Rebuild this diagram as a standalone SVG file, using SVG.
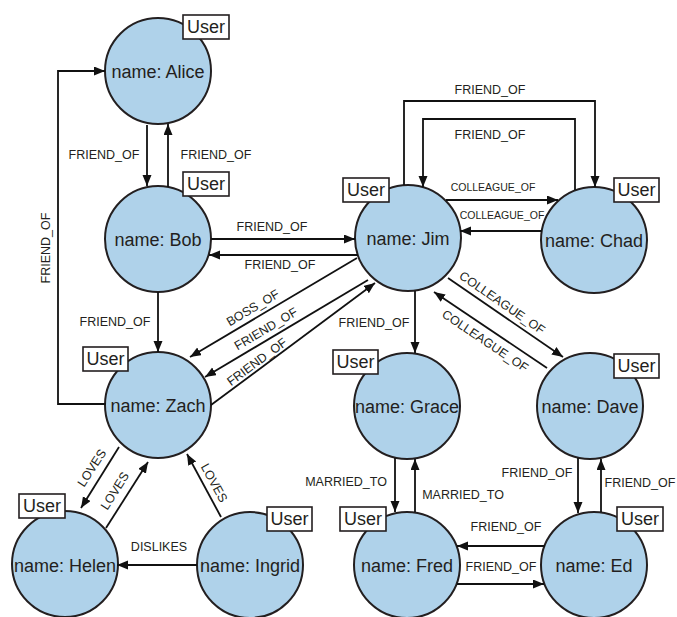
<svg xmlns="http://www.w3.org/2000/svg" width="677" height="617" viewBox="0 0 677 617">
  <style>
    .node circle { fill: #afd2ea; stroke: #231f20; stroke-width: 2; }
    .node rect { fill: #ffffff; stroke: #231f20; stroke-width: 1.6; }
    text { font-family: "Liberation Sans", Arial, sans-serif; fill: #231f20; text-anchor: middle; dominant-baseline: central; }
    .name { font-size: 18px; }
    .tag { font-size: 18px; }
    .edge { fill: none; stroke: #111111; stroke-width: 1.8; marker-end: url(#arrow); }
    .lbl { font-size: 12.5px; }
    .sm { font-size: 10.5px; }
  </style>
  <defs>
    <marker id="arrow" markerUnits="userSpaceOnUse" markerWidth="12" markerHeight="10" refX="11" refY="4.5" orient="auto">
      <path d="M0,0 L11,4.5 L0,9 z" fill="#111111"/>
    </marker>
  </defs>
  <rect width="677" height="617" fill="#ffffff"/>

  <!-- nodes -->
  <g id="alice" class="node"><circle cx="158" cy="71" r="53"/><text class="name" x="158" y="72">name: Alice</text><rect x="183" y="15" width="46" height="24"/><text class="tag" x="206" y="27">User</text></g>
  <g id="bob" class="node"><circle cx="158" cy="239" r="53"/><text class="name" x="158" y="240">name: Bob</text><rect x="183" y="172" width="46" height="24"/><text class="tag" x="206" y="184">User</text></g>
  <g id="jim" class="node"><circle cx="408" cy="238" r="53"/><text class="name" x="408" y="239">name: Jim</text><rect x="343" y="178" width="46" height="24"/><text class="tag" x="366" y="190">User</text></g>
  <g id="chad" class="node"><circle cx="594" cy="240" r="53"/><text class="name" x="594" y="241">name: Chad</text><rect x="614" y="178" width="45" height="24"/><text class="tag" x="636.5" y="190">User</text></g>
  <g id="zach" class="node"><circle cx="158" cy="405" r="53"/><text class="name" x="158" y="406">name: Zach</text><rect x="83" y="347" width="45" height="24"/><text class="tag" x="105.5" y="359">User</text></g>
  <g id="helen" class="node"><circle cx="65" cy="564" r="53"/><text class="name" x="65" y="566">name: Helen</text><rect x="19" y="494" width="46" height="24"/><text class="tag" x="42" y="506">User</text></g>
  <g id="ingrid" class="node"><circle cx="250" cy="565" r="53"/><text class="name" x="250" y="566">name: Ingrid</text><rect x="267" y="507" width="45" height="24"/><text class="tag" x="289.5" y="519">User</text></g>
  <g id="grace" class="node"><circle cx="407" cy="406" r="53"/><text class="name" x="407" y="407">name: Grace</text><rect x="333" y="350" width="45" height="24"/><text class="tag" x="355.5" y="362">User</text></g>
  <g id="dave" class="node"><circle cx="590" cy="406" r="53"/><text class="name" x="590" y="407">name: Dave</text><rect x="614" y="354" width="45" height="24"/><text class="tag" x="636.5" y="366">User</text></g>
  <g id="fred" class="node"><circle cx="407" cy="565" r="53"/><text class="name" x="407" y="566">name: Fred</text><rect x="340" y="507" width="46" height="24"/><text class="tag" x="363" y="519">User</text></g>
  <g id="ed" class="node"><circle cx="594" cy="565" r="53"/><text class="name" x="594" y="566">name: Ed</text><rect x="617" y="507" width="46" height="24"/><text class="tag" x="640" y="519">User</text></g>

  <!-- connectors -->
  <g id="connectors">
    <path class="edge" d="M147,125 V186"/>
    <text class="lbl" x="104" y="155">FRIEND_OF</text>
    <path class="edge" d="M168,187 V124"/>
    <text class="lbl" x="216" y="155">FRIEND_OF</text>

    <path class="edge" d="M211,239 H355"/>
    <text class="lbl" x="272" y="227">FRIEND_OF</text>
    <path class="edge" d="M358,255 H209"/>
    <text class="lbl" x="280" y="265">FRIEND_OF</text>

    <path class="edge" d="M404,185 V101 H595 V187"/>
    <text class="lbl" x="490" y="90">FRIEND_OF</text>
    <path class="edge" d="M575,190 V119 H423 V187"/>
    <text class="lbl" x="490" y="135">FRIEND_OF</text>

    <path class="edge" d="M446,200 H558"/>
    <text class="sm" x="493" y="187">COLLEAGUE_OF</text>
    <path class="edge" d="M542,231 H460"/>
    <text class="sm" x="502" y="215">COLLEAGUE_OF</text>

    <path class="edge" d="M158,292 V352"/>
    <text class="lbl" x="115" y="322">FRIEND_OF</text>

    <path class="edge" d="M106,404 H58 V71 H105"/>
    <text class="lbl" transform="translate(46,248) rotate(-90)">FRIEND_OF</text>

    <path class="edge" d="M357,258 L190,357"/>
    <text class="lbl" transform="translate(253,308) rotate(-30.7)">BOSS_OF</text>
    <path class="edge" d="M368,280 L205,377"/>
    <text class="lbl" transform="translate(266,329) rotate(-30.7)">FRIEND_OF</text>
    <path class="edge" d="M211,405 L375,283"/>
    <text class="lbl" transform="translate(257,362) rotate(-36.6)">FRIEND_OF</text>

    <path class="edge" d="M415,291 V353"/>
    <text class="lbl" x="374" y="323">FRIEND_OF</text>

    <path class="edge" d="M448,278 L563,357"/>
    <text class="lbl" transform="translate(502,303) rotate(34.5)">COLLEAGUE_OF</text>
    <path class="edge" d="M547,368 L434,292"/>
    <text class="lbl" transform="translate(485,341) rotate(34)">COLLEAGUE_OF</text>

    <path class="edge" d="M395,458 V512"/>
    <text class="lbl" x="346" y="482">MARRIED_TO</text>
    <path class="edge" d="M415,512 V459"/>
    <text class="lbl" x="463" y="495">MARRIED_TO</text>

    <path class="edge" d="M578,458 V513"/>
    <text class="lbl" x="537" y="473">FRIEND_OF</text>
    <path class="edge" d="M601,512 V459"/>
    <text class="lbl" x="640" y="483">FRIEND_OF</text>

    <path class="edge" d="M545,546 H457"/>
    <text class="lbl" x="506" y="527">FRIEND_OF</text>
    <path class="edge" d="M457,584 H544"/>
    <text class="lbl" x="501" y="567">FRIEND_OF</text>

    <path class="edge" d="M119,447 L81,508"/>
    <text class="lbl" transform="translate(92,468) rotate(-57)">LOVES</text>
    <path class="edge" d="M106,528 L148,462"/>
    <text class="lbl" transform="translate(115,491) rotate(-57.5)">LOVES</text>
    <path class="edge" d="M221,517 L187,454"/>
    <text class="lbl" transform="translate(214,483) rotate(61.6)">LOVES</text>

    <path class="edge" d="M197,565 H117"/>
    <text class="lbl" x="159" y="547">DISLIKES</text>
  </g>
</svg>
